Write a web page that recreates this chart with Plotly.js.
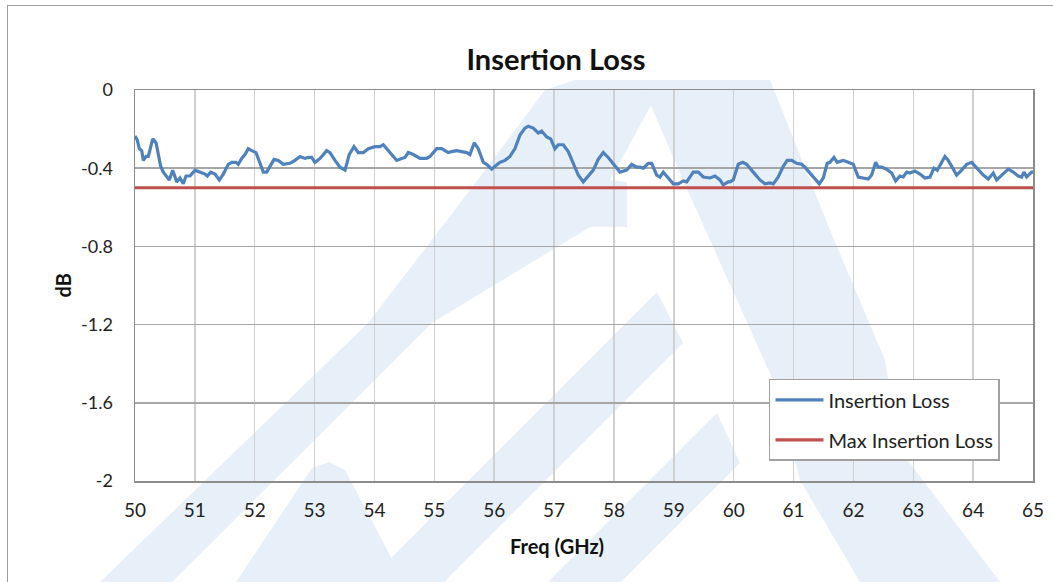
<!DOCTYPE html>
<html><head><meta charset="utf-8">
<script src="https://cdn.plot.ly/plotly-3.0.1.min.js"></script>
<style>
html,body{margin:0;padding:0;background:#fff;overflow:hidden;}
#frame{position:absolute;left:7px;top:5px;width:1060px;height:600px;border:1.5px solid #a0a0a0;box-sizing:border-box;}
#chart{position:absolute;left:0;top:0;width:1053px;height:582px;}
</style></head>
<body>
<div id="frame"></div>
<div id="chart"></div>
<script>
const freqGHz = [50.000,50.038,50.072,50.112,50.139,50.184,50.222,50.262,50.296,50.351,50.389,50.429,50.473,50.529,50.573,50.630,50.668,50.697,50.752,50.807,50.852,50.919,51.002,51.086,51.169,51.208,51.264,51.336,51.408,51.475,51.558,51.615,51.687,51.725,51.782,51.837,51.892,51.949,52.021,52.088,52.143,52.200,52.255,52.322,52.394,52.477,52.589,52.672,52.756,52.839,52.895,52.951,53.006,53.090,53.202,53.257,53.341,53.424,53.508,53.579,53.658,53.730,53.813,53.897,54.009,54.092,54.147,54.204,54.259,54.371,54.455,54.510,54.565,54.648,54.760,54.872,54.927,55.039,55.123,55.233,55.290,55.373,55.457,55.540,55.595,55.667,55.734,55.818,55.874,55.958,56.013,56.097,56.180,56.264,56.347,56.431,56.514,56.569,56.653,56.736,56.793,56.877,56.943,57.015,57.070,57.154,57.237,57.321,57.404,57.488,57.571,57.655,57.738,57.822,57.905,57.989,58.101,58.213,58.296,58.380,58.435,58.490,58.574,58.630,58.714,58.769,58.824,58.908,58.991,59.075,59.158,59.215,59.325,59.409,59.492,59.604,59.688,59.771,59.826,59.910,59.938,59.993,60.077,60.150,60.217,60.327,60.439,60.523,60.606,60.661,60.745,60.828,60.895,60.969,61.052,61.136,61.191,61.275,61.358,61.430,61.497,61.563,61.608,61.675,61.730,61.831,61.914,61.998,62.081,62.165,62.248,62.305,62.372,62.415,62.472,62.555,62.639,62.706,62.778,62.833,62.890,62.945,63.028,63.112,63.195,63.279,63.346,63.401,63.458,63.529,63.585,63.641,63.725,63.808,63.892,63.975,64.059,64.169,64.253,64.336,64.393,64.448,64.503,64.587,64.670,64.754,64.809,64.849,64.894,64.977,65.000];
const insertionLoss = [-0.235,-0.256,-0.30,-0.31,-0.36,-0.34,-0.34,-0.29,-0.25,-0.27,-0.32,-0.39,-0.42,-0.44,-0.46,-0.41,-0.45,-0.47,-0.45,-0.48,-0.44,-0.44,-0.41,-0.42,-0.43,-0.44,-0.42,-0.43,-0.46,-0.43,-0.38,-0.37,-0.37,-0.38,-0.35,-0.33,-0.30,-0.31,-0.32,-0.375,-0.42,-0.42,-0.39,-0.355,-0.36,-0.38,-0.375,-0.36,-0.34,-0.35,-0.345,-0.345,-0.37,-0.35,-0.31,-0.32,-0.36,-0.395,-0.41,-0.33,-0.29,-0.32,-0.32,-0.30,-0.29,-0.29,-0.28,-0.30,-0.32,-0.36,-0.35,-0.345,-0.32,-0.33,-0.35,-0.35,-0.34,-0.30,-0.30,-0.32,-0.315,-0.31,-0.315,-0.32,-0.33,-0.27,-0.30,-0.37,-0.38,-0.405,-0.39,-0.37,-0.36,-0.34,-0.30,-0.23,-0.195,-0.185,-0.195,-0.22,-0.21,-0.24,-0.25,-0.30,-0.28,-0.28,-0.315,-0.38,-0.435,-0.47,-0.44,-0.41,-0.355,-0.32,-0.345,-0.375,-0.42,-0.41,-0.38,-0.395,-0.395,-0.40,-0.375,-0.375,-0.435,-0.445,-0.42,-0.45,-0.48,-0.48,-0.465,-0.47,-0.42,-0.42,-0.445,-0.45,-0.44,-0.46,-0.485,-0.47,-0.47,-0.46,-0.38,-0.37,-0.38,-0.42,-0.46,-0.48,-0.475,-0.48,-0.445,-0.39,-0.36,-0.36,-0.375,-0.38,-0.395,-0.425,-0.455,-0.48,-0.45,-0.375,-0.37,-0.345,-0.37,-0.36,-0.37,-0.38,-0.445,-0.45,-0.455,-0.435,-0.37,-0.395,-0.395,-0.405,-0.425,-0.465,-0.44,-0.445,-0.42,-0.425,-0.415,-0.43,-0.45,-0.445,-0.40,-0.41,-0.375,-0.34,-0.36,-0.39,-0.435,-0.41,-0.38,-0.37,-0.40,-0.435,-0.455,-0.425,-0.46,-0.445,-0.43,-0.405,-0.42,-0.44,-0.445,-0.42,-0.445,-0.42,-0.42];
const maxFreq = [50, 65];
const maxInsertionLoss = [-0.5, -0.5];
const xTicks = [50,51,52,53,54,55,56,57,58,59,60,61,62,63,64,65];
const yTicks = [0,-0.4,-0.8,-1.2,-1.6,-2];
const yTickLabels = ['0','-0.4','-0.8','-1.2','-1.6','-2'];

// faint background watermark (decoration, in page pixels)
const PL = 135, PR = 1033, PT = 90, PB = 481;
function path(pts){
  return 'M' + pts.map(p => ((p[0]-PL)/(PR-PL)).toFixed(4) + ',' + ((PB-p[1])/(PB-PT)).toFixed(4)).join('L') + 'Z';
}
const wmColor = '#e7eff8';
const watermark = [
  [[100,582],[368,323],[470,190],[545,90],[575,80],[665,80],[610,180],[627,182],[627,227],[590,227],[432,323],[172,582]],
  [[236,582],[404,582],[345,470],[329,462],[312,468]],
  [[657,292],[683,343],[444,582],[367,582]],
  [[717,413],[740,463],[621,582],[548,582]],
  [[640,80],[770,80],[830,230],[885,360],[900,450],[1000,582],[860,582],[800,480],[773,380],[683,180]]
];

const FONT = 'Lato, "Open Sans", sans-serif';
const traces = [
  {x: freqGHz, y: insertionLoss, type:'scatter', mode:'lines', name:'Insertion Loss',
   legendgroup:'a', line:{color:'#4f81bd', width:3.2}},
  {x: maxFreq, y: maxInsertionLoss, type:'scatter', mode:'lines', name:'Max Insertion Loss',
   legendgroup:'b', line:{color:'#c0504d', width:3.2}}
];
const layout = {
  width:1053, height:582,
  margin:{l:135, r:20, t:90, b:101},
  paper_bgcolor:'rgba(0,0,0,0)', plot_bgcolor:'rgba(0,0,0,0)',
  font:{family:FONT, color:'#222', size:16},
  showlegend:true,
  legend:{x:0.706, y:0.261, xanchor:'left', yanchor:'top', bgcolor:'#fff',
          bordercolor:'#a0a0a0', borderwidth:1.5, font:{size:20, family:FONT, color:'#222'},
          traceorder:'grouped', tracegroupgap:11, itemwidth:48},
  xaxis:{range:[50,65], tickvals:xTicks, ticktext:xTicks.map(String), showgrid:true,
         gridcolor:'#d0d0d0', gridwidth:1.5, showline:true, linecolor:'#8c8c8c', linewidth:1.5,
         mirror:true, zeroline:false, ticks:'', ticklabelstandoff:12, tickfont:{size:19, family:FONT}, fixedrange:true},
  yaxis:{range:[-2,0], tickvals:yTicks, ticktext:yTickLabels, showgrid:true,
         gridcolor:'#a6a6a6', gridwidth:1.5, showline:true, linecolor:'#8c8c8c', linewidth:1.5,
         mirror:true, zeroline:true, zerolinecolor:'#404040', zerolinewidth:1.5,
         ticks:'outside', ticklen:0, tickcolor:'rgba(0,0,0,0)', ticklabelstandoff:17,
         tickfont:{size:18, family:FONT}, fixedrange:true},
  title:{text:'<b>Insertion Loss</b>', font:{size:29, family:FONT, color:'#111'},
         xref:'container', yref:'container', x:0.528, y:0.897, xanchor:'center', yanchor:'middle'},
  shapes: watermark.map(p => ({type:'path', xref:'paper', yref:'paper', path:path(p),
          fillcolor:wmColor, line:{width:0}, layer:'below'})),
  annotations:[
    {text:'<b>Freq (GHz)</b>', xref:'paper', yref:'paper', x:(557-135)/898, y:-(546-481)/391,
     xanchor:'center', yanchor:'middle', showarrow:false, font:{size:20, family:FONT, color:'#111'}},
    {text:'<b>dB</b>', xref:'paper', yref:'paper', x:-(135-62)/898, y:0.5, textangle:-90,
     xanchor:'center', yanchor:'middle', showarrow:false, font:{size:20, family:FONT, color:'#111'}}
  ]
};
Plotly.newPlot('chart', traces, layout, {displayModeBar:false, staticPlot:true});
</script>
</body></html>
